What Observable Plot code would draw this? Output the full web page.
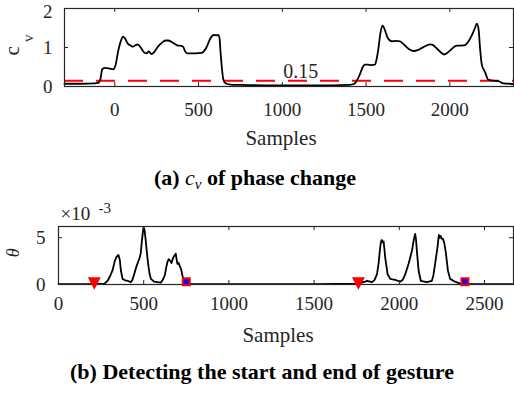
<!DOCTYPE html>
<html><head><meta charset="utf-8">
<script src="https://cdn.jsdelivr.net/npm/d3@7"></script>
<script src="https://cdn.jsdelivr.net/npm/@observablehq/plot@0.6"></script>
<style>
html,body{margin:0;padding:0;background:#fff;overflow:hidden}
#wrap{position:relative;width:514px;height:394px;}
.panel{position:absolute;left:0;font-family:"Liberation Serif",serif;}
.panel text{font-family:"Liberation Serif",serif;}
.cap{position:absolute;left:0;width:514px;text-align:center;font-family:"Liberation Serif",serif;font-weight:bold;font-size:22px;line-height:1;color:#000;white-space:nowrap;}
</style></head><body><div id="wrap"></div>
<script>
// ---- (a) c_v of phase change ----
const cvSamples = [-300,-200,-120,-100,-85,-75,-60,-30,-10,5,20,35,50,60,78,95,108,125,137,155,167,180,190,203,219,235,249,270,289,305,318,340,358,375,388,408,420,432,450,480,518,535,547,562,577,592,607,617,625,631,640,647,657,667,690,750,900,1100,1300,1400,1430,1445,1464,1478,1493,1510,1530,1553,1563,1573,1585,1599,1612,1627,1653,1680,1703,1725,1742,1762,1782,1812,1842,1882,1900,1921,1945,1967,2001,2041,2070,2091,2110,2131,2150,2161,2172,2180,2190,2200,2210,2230,2260,2290,2320,2360,2380];
const cvValues = [0.07,0.07,0.08,0.09,0.2,0.44,0.48,0.46,0.44,0.55,0.9,1.15,1.28,1.24,1.1,1.05,1.02,1.06,1.08,1.0,0.92,0.86,0.85,0.9,0.83,0.88,0.97,1.08,1.15,1.18,1.18,1.14,1.09,1.05,1.05,1.02,0.9,0.85,0.85,0.85,0.86,0.92,1.0,1.15,1.28,1.32,1.31,1.32,1.25,0.9,0.45,0.2,0.1,0.07,0.05,0.04,0.03,0.03,0.03,0.04,0.07,0.15,0.32,0.48,0.56,0.56,0.55,0.56,0.7,0.95,1.35,1.56,1.45,1.27,1.16,1.17,1.16,1.08,1.01,0.94,0.91,0.94,1.01,1.08,1.06,0.98,0.88,0.82,0.92,1.05,1.05,1.06,1.15,1.31,1.5,1.61,1.45,1.0,0.58,0.45,0.37,0.17,0.15,0.14,0.08,0.07,0.06];
const cvThreshold = 0.15;
const cvThresholdLabel = "0.15";
const cvLabelAt = {x: 1110, y: 0.37};
const cvXTicks = [0, 500, 1000, 1500, 2000];
const cvYTicks = [0, 1, 2];
const cvXDomain = [-300, 2380];
const cvYDomain = [0, 2];

// ---- (b) detecting start/end of gesture (theta in units of 1e-3) ----
const thetaSamples = [0,100,200,270,288,300,317,330,342,352,360,366,376,390,405,424,434,444,455,467,477,483,490,499,505,512,520,526,534,542,561,600,612,624,632,639,646,653,663,668,674,681,688,693,698,705,711,720,727,737,750,780,1000,1500,1760,1800,1810,1840,1855,1869,1878,1884,1890,1895,1898,1903,1908,1917,1931,1947,1960,1976,1990,2005,2020,2035,2054,2074,2085,2093,2098,2103,2113,2126,2161,2191,2200,2210,2224,2232,2237,2242,2248,2255,2263,2273,2285,2298,2327,2357,2400,2680];
const thetaValues = [0.05,0.05,0.05,0.1,0.4,0.8,1.5,2.5,3.0,3.15,2.6,1.5,0.6,0.45,0.4,0.25,0.5,1.1,1.8,2.4,2.9,3.4,4.8,6.15,5.8,4.7,3.2,2.2,1.2,0.6,0.3,0.2,0.5,1.0,1.8,2.4,2.7,2.6,2.3,2.6,2.9,3.1,3.3,2.7,2.2,2.3,2.0,1.6,0.96,0.4,0.15,0.05,0.05,0.05,0.1,0.3,0.4,0.25,0.5,1.1,2.2,3.3,4.3,4.7,4.75,4.5,4.6,2.9,1.1,0.6,0.55,0.5,0.4,0.3,0.5,1.1,2.2,3.6,4.8,5.4,4.8,3.6,1.5,0.4,0.25,0.4,1.0,2.2,4.0,5.3,5.0,5.2,4.9,4.9,4.5,3.4,1.5,0.6,0.3,0.1,0.05,0.05];
const startSamples = [210, 1760];
const endSamples = [750, 2385];
const markerLevel = 0.3;
const thetaXTicks = [0, 500, 1000, 1500, 2000, 2500];
const thetaYTicks = [0, 5];
const thetaXDomain = [0, 2670];
const thetaYDomain = [0, 6.2];

const axisColor = "#262626";
const serif = "Liberation Serif, serif";
const fmt = d => String(d);

const cvData = cvSamples.map((s, i) => ({s, v: cvValues[i]}));
const thetaData = thetaSamples.map((s, i) => ({s, v: thetaValues[i]}));

function inwardTicks(xt, yt, pw, ph) {
  const o = {stroke: axisColor, strokeWidth: 1};
  return [
    Plot.tickX(xt, {x: d => d, insetTop: ph - 4, ...o}),
    Plot.tickX(xt, {x: d => d, insetBottom: ph - 4, ...o}),
    Plot.tickY(yt, {y: d => d, insetRight: pw - 4, ...o}),
    Plot.tickY(yt, {y: d => d, insetLeft: pw - 4, ...o})
  ];
}

const triangleDown = {
  draw(ctx, size) {
    const r = Math.sqrt(size / Math.PI);
    ctx.moveTo(-1.3 * r, -0.9 * r);
    ctx.lineTo(1.3 * r, -0.9 * r);
    ctx.lineTo(0, 1.6 * r);
    ctx.closePath();
  }
};

const txt = {fontFamily: serif, fill: axisColor, lineAnchor: "middle"};
const wrap = document.getElementById("wrap");

// Top panel
{
  const W = 514, H = 150, mL = 64, mR = 1, mT = 8, mB = 64;
  const pw = W - mL - mR, ph = H - mT - mB;
  const lowTicks = cvYTicks.slice(0, -1);
  const topTick = cvYTicks.slice(-1);
  const p = Plot.plot({
    width: W, height: H, marginLeft: mL, marginRight: mR, marginTop: mT, marginBottom: mB,
    style: {fontFamily: serif, fontSize: "19px", color: axisColor, background: "transparent", overflow: "visible"},
    x: {domain: cvXDomain},
    y: {domain: cvYDomain},
    marks: [
      Plot.ruleY([cvThreshold], {stroke: "#ff0000", strokeWidth: 2, strokeDasharray: "19,13"}),
      Plot.line(cvData, {x: "s", y: "v", stroke: "black", strokeWidth: 1.8, curve: "monotone-x"}),
      Plot.text([cvThresholdLabel], {x: () => cvLabelAt.x, y: () => cvLabelAt.y, text: d => d, fontSize: 20, ...txt}),
      ...inwardTicks(cvXTicks, cvYTicks, pw, ph),
      Plot.frame({stroke: axisColor, strokeWidth: 1.2}),
      Plot.axisX({ticks: cvXTicks, tickFormat: fmt, tickSize: 0, tickPadding: 16, label: null, fontFamily: serif, fill: axisColor}),
      Plot.axisY({ticks: lowTicks, tickFormat: fmt, tickSize: 0, tickPadding: 12, label: null, fontFamily: serif, fill: axisColor}),
      Plot.axisY({ticks: topTick, tickFormat: fmt, tickSize: 0, tickPadding: 12, dy: 3, label: null, fontFamily: serif, fill: axisColor}),
      Plot.text(["Samples"], {frameAnchor: "bottom", dx: -8, dy: 51.6, text: d => d, fontSize: 21, ...txt}),
      Plot.text(["c"], {frameAnchor: "left", rotate: -90, dx: -52.7, dy: 8, text: d => d, fontSize: 21, ...txt}),
      Plot.text(["v"], {frameAnchor: "left", rotate: -90, dx: -36.8, dy: -5.5, text: d => d, fontSize: 15, ...txt})
    ]
  });
  p.classList.add("panel");
  p.style.top = "0px";
  wrap.appendChild(p);
}

// Bottom panel
{
  const W = 514, H = 150, mL = 58, mR = 1, mT = 31, mB = 61;
  const pw = W - mL - mR, ph = H - mT - mB;
  const p = Plot.plot({
    width: W, height: H, marginLeft: mL, marginRight: mR, marginTop: mT, marginBottom: mB,
    style: {fontFamily: serif, fontSize: "19px", color: axisColor, background: "transparent", overflow: "visible"},
    x: {domain: thetaXDomain},
    y: {domain: thetaYDomain},
    marks: [
      Plot.line(thetaData, {x: "s", y: "v", stroke: "black", strokeWidth: 1.8}),
      ...inwardTicks(thetaXTicks, thetaYTicks, pw, ph),
      Plot.frame({stroke: axisColor, strokeWidth: 1.2}),
      Plot.dot(startSamples, {x: d => d, y: () => markerLevel, symbol: triangleDown, r: 5, fill: "#ff0000", stroke: "none"}),
      Plot.dot(endSamples, {x: d => d, y: () => markerLevel, symbol: "square", r: 3.95, fill: "#0000ff", stroke: "#ff0000", strokeWidth: 2}),
      Plot.axisX({ticks: thetaXTicks, tickFormat: fmt, tickSize: 0, tickPadding: 12, label: null, fontFamily: serif, fill: axisColor}),
      Plot.axisY({ticks: thetaYTicks, tickFormat: fmt, tickSize: 0, tickPadding: 13, label: null, fontFamily: serif, fill: axisColor}),
      Plot.text(["Samples"], {frameAnchor: "bottom", dx: -8, dy: 51, text: d => d, fontSize: 21, ...txt}),
      Plot.text(["θ"], {frameAnchor: "left", rotate: -90, dx: -45.4, dy: 1.7, text: d => d, fontSize: 18, fontStyle: "italic", ...txt}),
      Plot.text(["×10"], {frameAnchor: "top-left", textAnchor: "start", dx: 2, dy: -12.1, text: d => d, fontSize: 19, ...txt}),
      Plot.text(["-3"], {frameAnchor: "top-left", textAnchor: "start", dx: 40, dy: -18.8, text: d => d, fontSize: 15, ...txt})
    ]
  });
  p.classList.add("panel");
  p.style.top = "195px";
  wrap.appendChild(p);
}

// Captions
const capA = document.createElement("div");
capA.className = "cap";
capA.style.top = "166.6px";
capA.style.left = "-2px";
capA.innerHTML = '(a) <span style="font-style:italic;font-weight:normal">c<span style="font-size:15px;position:relative;top:4px">v</span></span> of phase change';
wrap.appendChild(capA);

const capB = document.createElement("div");
capB.className = "cap";
capB.style.top = "360.6px";
capB.style.left = "5px";
capB.textContent = "(b) Detecting the start and end of gesture";
wrap.appendChild(capB);
</script>
</body></html>
